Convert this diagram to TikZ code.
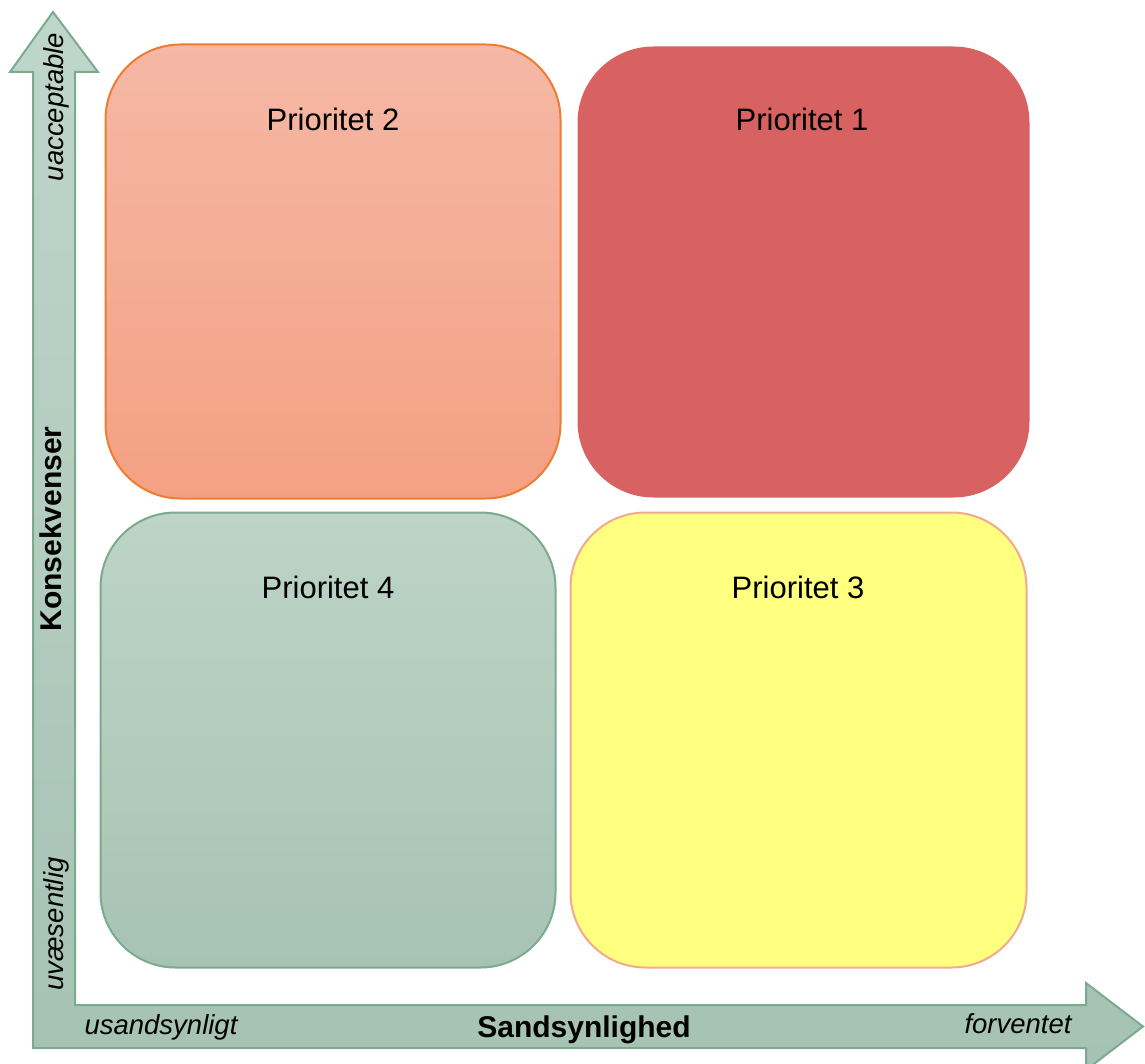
\documentclass[tikz,border=0pt]{standalone}
\usepackage{fontspec}
\setmainfont{Liberation Sans}
\definecolor{axtop}{HTML}{BFD6CA}
\definecolor{axbot}{HTML}{A5C2B3}
\definecolor{axline}{HTML}{7CAA90}
\definecolor{ptwotop}{HTML}{F5B8A5}
\definecolor{ptwobot}{HTML}{F4A083}
\definecolor{ptwoline}{HTML}{ED7D31}
\definecolor{pone}{HTML}{D86161}
\definecolor{pthree}{HTML}{FFFF80}
\definecolor{pthreeline}{HTML}{F3A98C}
\definecolor{pfourtop}{HTML}{BDD4C7}
\definecolor{pfourbot}{HTML}{A7C3B4}
\begin{document}
\begin{tikzpicture}[x=1pt,y=-1pt,
  quad/.style={rectangle, rounded corners=75pt, inner sep=0pt, line width=2pt},
  plabel/.style={font=\fontsize{31}{36}\selectfont, inner sep=0pt},
  axlabel/.style={font=\fontsize{30}{36}\selectfont\bfseries, inner sep=0pt},
  ticklabel/.style={font=\fontsize{27.5}{33}\selectfont\itshape, inner sep=0pt}]
\useasboundingbox (0,0) rectangle (1145,1064);
% axes (bent arrow)
\path[draw=axline, line width=2pt, top color=axtop, bottom color=axbot]
  (53,12) -- (98,72) -- (75,72) -- (75,1005) -- (1086,1005) -- (1086,983)
  -- (1143,1026.5) -- (1086,1070) -- (1086,1048) -- (33,1048) -- (33,72)
  -- (10,72) -- cycle;
% quadrants
\node[quad, draw=ptwoline, top color=ptwotop, bottom color=ptwobot,
  minimum width=455pt, minimum height=454pt] (p2) at (333,271.5) {};
\node[quad, draw=pone, fill=pone,
  minimum width=450pt, minimum height=449pt] (p1) at (803.5,272) {};
\node[quad, draw=axline, top color=pfourtop, bottom color=pfourbot,
  minimum width=455pt, minimum height=455pt] (p4) at (328,740) {};
\node[quad, draw=pthreeline, fill=pthree,
  minimum width=456pt, minimum height=455pt] (p3) at (798.5,740) {};
% quadrant labels
\node[plabel] (l2) at (333,119) {Prioritet 2};
\node[plabel] (l1) at (802,119) {Prioritet 1};
\node[plabel] (l4) at (328,587) {Prioritet 4};
\node[plabel] (l3) at (798,587) {Prioritet 3};
% axis labels
\node[axlabel, anchor=base] (xl) at (584,1037) {Sandsynlighed};
\node[axlabel, anchor=base, rotate=90] (yl) at (61,529) {Konsekvenser};
\node[ticklabel, anchor=base] (x0) at (161,1034) {usandsynligt};
\node[ticklabel, anchor=base] (x1) at (1018,1033) {forventet};
\node[ticklabel, anchor=base, rotate=90] (y1) at (63,107) {uacceptable};
\node[ticklabel, anchor=base, rotate=90] (y0) at (63,924) {uvæsentlig};
\end{tikzpicture}
\end{document}
